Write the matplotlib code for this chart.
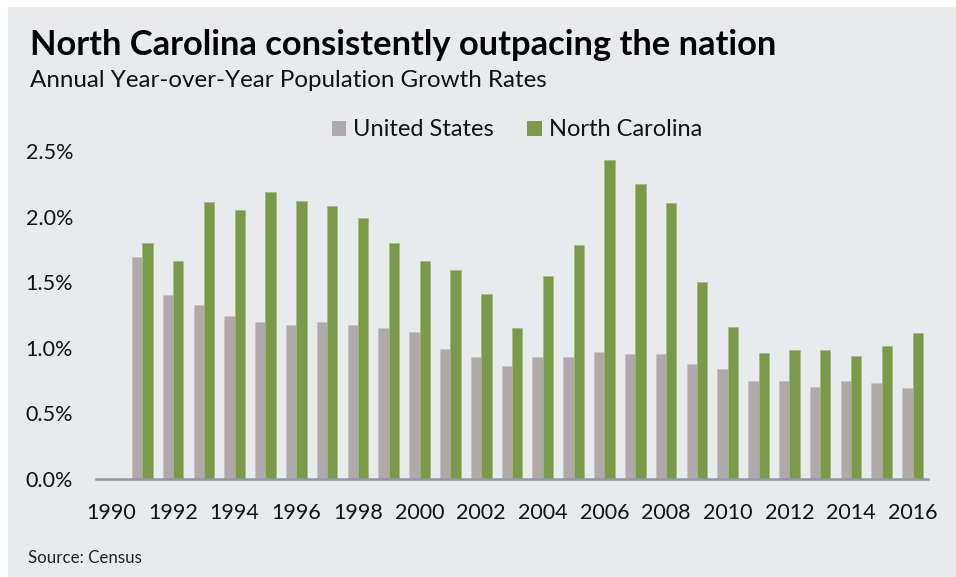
import matplotlib
matplotlib.use("Agg")
import matplotlib.pyplot as plt
from matplotlib.patches import Rectangle, Patch
import numpy as np

years = list(range(1991, 2017))
us = [1.69, 1.40, 1.33, 1.24, 1.20, 1.17, 1.20, 1.17, 1.15, 1.12, 0.99, 0.93, 0.86,
      0.93, 0.93, 0.97, 0.95, 0.95, 0.88, 0.84, 0.75, 0.75, 0.70, 0.75, 0.73, 0.69]
nc = [1.80, 1.66, 2.11, 2.05, 2.19, 2.12, 2.08, 1.99, 1.80, 1.66, 1.59, 1.41, 1.15,
      1.55, 1.78, 2.43, 2.25, 2.10, 1.50, 1.16, 0.96, 0.98, 0.98, 0.94, 1.01, 1.11]
tick_years = list(range(1990, 2017, 2))
yticks = [0.0, 0.5, 1.0, 1.5, 2.0, 2.5]

FONT = ["Lato", "DejaVu Sans"]
plt.rcParams["font.family"] = FONT

bg = "#E7EBEE"
fig = plt.figure(figsize=(9.56, 5.77), dpi=100)
fig.patch.set_facecolor("white")
fig.add_artist(Rectangle((8 / 956, 0), 1 - 8 / 956, 1 - 7 / 577, transform=fig.transFigure,
                         facecolor=bg, edgecolor="none", zorder=0))

ax = fig.add_axes([96 / 956, 1 - 479 / 577, 832 / 956, (479 - 151) / 577])
ax.set_facecolor(bg)
ax.patch.set_alpha(0)

x = np.array(years) - 1990
w = 0.335
c_us = "#AFAAA9"
c_nc = "#7A9A4A"
ax.bar(x - w / 2, us, width=w, color=c_us, edgecolor="#C4C0BF", linewidth=0.4, zorder=2)
ax.bar(x + w / 2, nc, width=w, color=c_nc, edgecolor="#9DB87A", linewidth=0.4, zorder=2)

ax.set_xlim(-0.5, 26.5)
ax.set_ylim(0, 2.5)
ax.set_xticks([t - 1990 for t in tick_years])
ax.set_xticklabels([str(t) for t in tick_years], fontsize=15.5, color="#111111")
ax.set_yticks(yticks)
ax.set_yticklabels([f"{v:.1f}%" for v in yticks], fontsize=15.5, color="#111111")
ax.tick_params(axis="both", length=0)
ax.tick_params(axis="x", pad=17)
ax.tick_params(axis="y", pad=16.5)
for s in ["top", "right", "left"]:
    ax.spines[s].set_visible(False)
ax.spines["bottom"].set_color("#8D9AA7")
ax.spines["bottom"].set_linewidth(1.8)
ax.spines["bottom"].set_zorder(3)

handles = [Patch(facecolor=c_us, edgecolor="none"), Patch(facecolor=c_nc, edgecolor="none")]
fig.legend(handles, ["United States", "North Carolina"], loc="center",
           bbox_to_anchor=(517 / 956, 1 - 130 / 577), ncol=2, frameon=False,
           fontsize=17, handlelength=0.62, handleheight=0.62, handletextpad=0.3,
           columnspacing=1.4, labelcolor="#111111")

fig.text(30 / 956, 1 - 55 / 577, "North Carolina consistently outpacing the nation",
         fontsize=24.8, fontweight="bold", color="black", va="baseline", ha="left")
fig.text(30 / 956, 1 - 87 / 577, "Annual Year-over-Year Population Growth Rates",
         fontsize=17.4, color="#111111", va="baseline", ha="left")
fig.text(28 / 956, 1 - 563 / 577, "Source: Census", fontsize=12.2, color="#222222",
         va="baseline", ha="left")

fig.savefig("out.png", dpi=100, facecolor=fig.get_facecolor())
